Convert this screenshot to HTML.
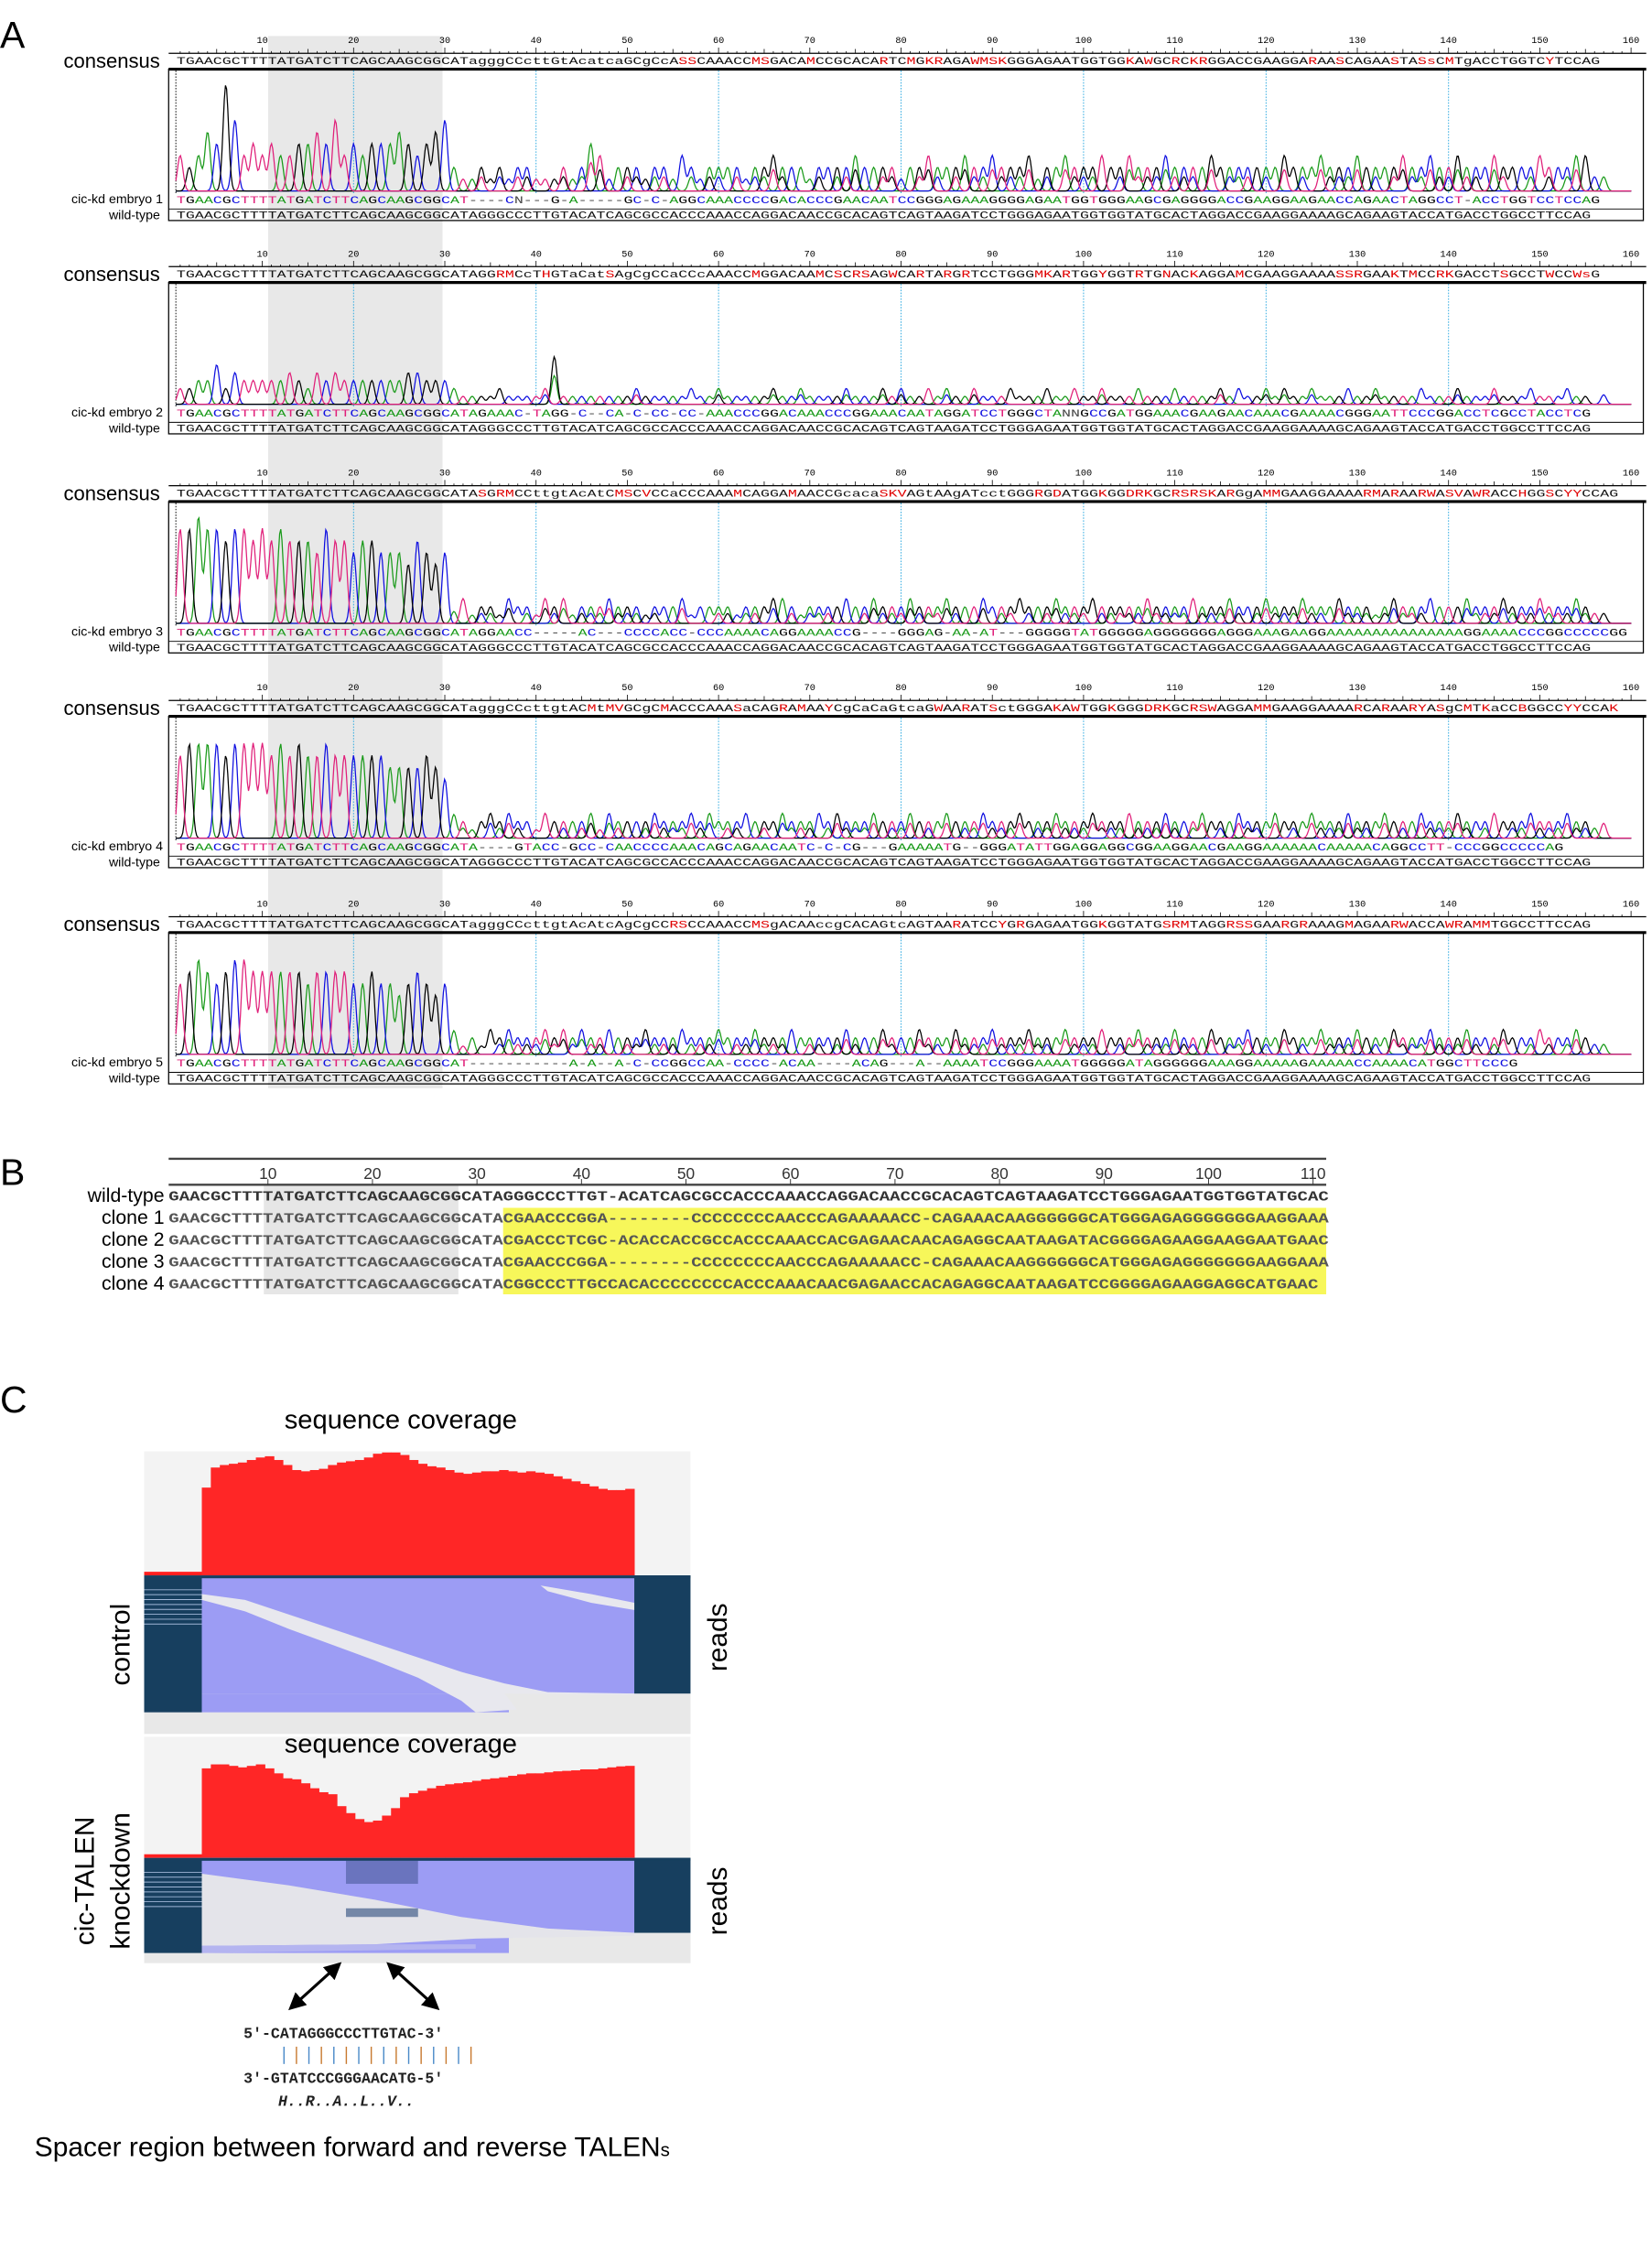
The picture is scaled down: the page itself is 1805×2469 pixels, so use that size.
<!DOCTYPE html>
<html><head><meta charset="utf-8"><style>
html,body{margin:0;padding:0;background:#fff}
svg{display:block}
text{font-family:"Liberation Sans",sans-serif}
.mono{font-family:"Liberation Mono",monospace}
</style></head><body>
<svg id="fig" xmlns="http://www.w3.org/2000/svg" width="1805" height="2469" viewBox="0 0 1146 1568" preserveAspectRatio="none">
<rect width="1146" height="1568" fill="#fff"/>
<text x="0" y="33" font-size="26">A</text>
<text x="0" y="822" font-size="26">B</text>
<text x="0" y="980" font-size="26">C</text>
<rect x="186" y="25" width="121" height="730" fill="#e8e8e8"/>
<g id="panelA"></g>
<g id="panelB"></g>
<g id="panelC"></g>
</svg>
<script>
const NS="http://www.w3.org/2000/svg";
function mk(tag,attrs,parent){const e=document.createElementNS(NS,tag);for(const k in attrs)e.setAttribute(k,attrs[k]);parent.appendChild(e);return e;}
const COL={A:"#1a9a1a",C:"#1010e0",G:"#000",T:"#e0207a",N:"#444","-":"#333"};

// ---------- Panel A data ----------
const blockOffsets=[0,148,300,449,599];
const wtSeq="TGAACGCTTTTATGATCTTCAGCAAGCGGCATAGGGCCCTTGTACATCAGCGCCACCCAAACCAGGACAACCGCACAGTCAGTAAGATCCTGGGAGAATGGTGGTATGCACTAGGACCGAAGGAAAAGCAGAAGTACCATGACCTGGCCTTCCAG";
const consensusSeqs=[
"TGAACGCTTTTATGATCTTCAGCAAGCGGCATagggCCcttGtAcatcaGCgCcASSCAAACCMSGACAMCCGCACARTCMGKRAGAWMSKGGGAGAATGGTGGKAWGCRCKRGGACCGAAGGARAASCAGAASTASsCMTgACCTGGTCYTCCAG",
"TGAACGCTTTTATGATCTTCAGCAAGCGGCATAGGRMCcTHGTaCatSAgCgCCaCCcAAACCMGGACAAMCSCRSAGWCARTARGRTCCTGGGMKARTGGYGGTRTGNACKAGGAMCGAAGGAAAASSRGAAKTMCCRKGACCTSGCCTWCCWsG",
"TGAACGCTTTTATGATCTTCAGCAAGCGGCATASGRMCCttgtAcAtCMSCVCCaCCCAAAMCAGGAMAACCGcacaSKVAGtAAgATcctGGGRGDATGGKGGDRKGCRSRSKARGgAMMGAAGGAAAARMARAARWASVAWRACCHGGSCYYCCAG",
"TGAACGCTTTTATGATCTTCAGCAAGCGGCATagggCCcttgtACMtMVGCgCMACCCAAASaCAGRAMAAYCgCaCaGtcaGWAARATSctGGGAKAWTGGKGGGDRKGCRSWAGGAMMGAAGGAAAARCARAARYASgCMTKaCCBGGCCYYCCAK",
"TGAACGCTTTTATGATCTTCAGCAAGCGGCATagggCCcttgtAcAtcAgCgCCRSCCAAACCMSgACAAccgCACAGtcAGTAARATCCYGRGAGAATGGKGGTATGSRMTAGGRSSGAARGRAAAGMAGAARWACCAWRAMMTGGCCTTCCAG"];
const embryoSeqs=[
"TGAACGCTTTTATGATCTTCAGCAAGCGGCAT----CN---G-A-----GC-C-AGGCAAACCCCGACACCCGAACAATCCGGGAGAAAGGGGAGAATGGTGGGAAGCGAGGGGACCGAAGGAAGAACCAGAACTAGGCCT-ACCTGGTCCTCCAG",
"TGAACGCTTTTATGATCTTCAGCAAGCGGCATAGAAAC-TAGG-C--CA-C-CC-CC-AAACCCGGACAAACCCGGAAACAATAGGATCCTGGGCTANNGCCGATGGAAACGAAGAACAAACGAAAACGGGAATTCCCGGACCTCGCCTACCTCG",
"TGAACGCTTTTATGATCTTCAGCAAGCGGCATAGGAACC-----AC---CCCCACC-CCCAAAACAGGAAAACCG----GGGAG-AA-AT---GGGGGTATGGGGGAGGGGGGGAGGGAAAGAAGGAAAAAAAAAAAAAAAGGAAAACCCGGCCCCCGG",
"TGAACGCTTTTATGATCTTCAGCAAGCGGCATA----GTACC-GCC-CAACCCCAAACAGCAGAACAATC-C-CG---GAAAAATG--GGGATATTGGAGGAGGCGGAAGGAACGAAGGAAAAAACAAAAACAGGCCTT-CCCGGCCCCCAG",
"TGAACGCTTTTATGATCTTCAGCAAGCGGCAT-----------A-A--A-C-CCGGCCAA-CCCC-ACAA----ACAG---A--AAAATCCGGGAAAATGGGGGATAGGGGGGAAAGGAAAAAGAAAAACCAAAACATGGCTTCCCG"];
// per-base trace peak heights (0-9)
const traceHeights=[
"3235496343433445463434445434562112121221112124312221221321222212232221222232222122322232232223122322232232223222232222222322232223222232232232223222232223322",
"2233524333334324343333333443332111121111261111111121111121121111121121111211121211212112111211121121121112111211112121121211211121121111211121112111211121112",
"8898878878787776877677666576561312213221323122232221222312222122233212222322322232223222322232223222322222322223222322232223222322212322232223222322232223222",
"7888878888787877877777766667652212323221322223132222322232322232223222323222322232223222322232223222322232223222322232223222322232223222322232223222322232223",
"6787678877777767777667665676562121323222323232232223222322232223222322222322232223222322232223222322232223222322232223222322232223222322232223222322232223222"];
const rulerTicks=[10,20,30,40,50,60,70,80,90,100,110,120,130,140,150,160];
const cyanPositions=[20,40,60,80,100,120,140];

const bx=n=>125+(n-1)*6.33;
const A=document.getElementById('panelA');
function seqText(parent,str,y,colored,name){
  const t=mk('text',{x:bx(1)-2.5,y:y,'font-size':7.2,class:'mono',textLength:(str.length)*6.33,lengthAdjust:'spacingAndGlyphs'},parent);
  
  
  for(const ch of str){const s=mk('tspan',{},t);s.textContent=ch;
    let c="#111";
    if(colored){c=COL[ch.toUpperCase()]||"#d00";}
    else if(!"ACGTacgt-".includes(ch)) c="#e00000";
    s.setAttribute('fill',c);}
}
blockOffsets.forEach((dy,k)=>{
  const g=mk('g',{},A);
  
  
  mk('line',{x1:117,x2:1142,y1:37+dy,y2:37+dy,stroke:'#000','stroke-width':0.8},g);
  for(let n=1;n<=160;n++){const h=n%10==0?4:(n%5==0?3:1.5);mk('line',{x1:bx(n),x2:bx(n),y1:37+dy,y2:37+dy-h,stroke:'#000','stroke-width':0.5},g);}
  rulerTicks.forEach(v=>{const t=mk('text',{x:bx(v),y:30+dy,'font-size':6.5,'text-anchor':'middle',class:'mono'},g);t.textContent=v;
    });
  const cl=mk('text',{x:111,y:47+dy,'font-size':14,'text-anchor':'end'},g);cl.textContent='consensus';
  
  seqText(g,consensusSeqs[k],44.5+dy,false,'consensus-sequence');
  mk('rect',{x:117,y:48+dy,width:1023,height:105,fill:'none',stroke:'#000','stroke-width':0.8},g);
  mk('line',{x1:117,x2:1142,y1:48+dy,y2:48+dy,stroke:'#000','stroke-width':2},g);
  cyanPositions.forEach(p=>mk('line',{x1:bx(p),x2:bx(p),y1:49+dy,y2:134+dy,stroke:'#2aa8e0','stroke-width':0.6,'stroke-dasharray':'1,1'},g));
  mk('line',{x1:122,x2:122,y1:49+dy,y2:134+dy,stroke:'#000','stroke-width':0.6,'stroke-dasharray':'1,1'},g);
  const hs=traceHeights[k];const base=133+dy;const unit=k==1?5.5:8.2;
  const tailScale=k>=2?0.7:1;
  const seq=wtSeq;
  ['A','C','G','T'].forEach(b=>{
    const peaks=[];
    for(let i=0;i<Math.min(hs.length,157);i++){
      const ts=i>=31?tailScale:1;
      if(seq[i]===b||(i>=31&&"ACGT"[(i*7+k)%4]===b&&hs[i]>1)) peaks.push([bx(i+1),parseInt(hs[i])*unit*ts*(seq[i]===b?1:0.6)]);}
    let d='';
    for(let x=122;x<=1132;x+=0.8){let y=0.5;for(const p of peaks){const dx=x-p[0];if(Math.abs(dx)<8)y+=p[1]*Math.exp(-dx*dx/(2*1.9*1.9));}
      d+=(d?'L':'M')+x.toFixed(1)+','+(base-y).toFixed(1);}
    const pth=mk('path',{d:d,fill:'none',stroke:COL[b],'stroke-width':0.8},g);
    
  });
  mk('line',{x1:117,x2:1140,y1:145+dy,y2:145+dy,stroke:'#000','stroke-width':0.6},g);
  const el=mk('text',{x:113,y:141+dy,'font-size':9,'text-anchor':'end'},g);el.textContent='cic-kd embryo '+(k+1);
  
  const wl=mk('text',{x:111,y:152+dy,'font-size':9,'text-anchor':'end'},g);wl.textContent='wild-type';
  
  seqText(g,embryoSeqs[k],141+dy,true,'embryo-sequence');
  seqText(g,wtSeq,151.5+dy,false,'wild-type-sequence');
});

// ---------- Panel B ----------
const B=document.getElementById('panelB');
const bRows=["wild-type","clone 1","clone 2","clone 3","clone 4"];
const bSeqs=[
"GAACGCTTTTATGATCTTCAGCAAGCGGCATAGGGCCCTTGT-ACATCAGCGCCACCCAAACCAGGACAACCGCACAGTCAGTAAGATCCTGGGAGAATGGTGGTATGCAC",
"GAACGCTTTTATGATCTTCAGCAAGCGGCATACGAACCCGGA--------CCCCCCCCAACCCAGAAAAACC-CAGAAACAAGGGGGGCATGGGAGAGGGGGGGAAGGAAA",
"GAACGCTTTTATGATCTTCAGCAAGCGGCATACGACCCTCGC-ACACCACCGCCACCCAAACCACGAGAACAACAGAGGCAATAAGATACGGGGAGAAGGAAGGAATGAAC",
"GAACGCTTTTATGATCTTCAGCAAGCGGCATACGAACCCGGA--------CCCCCCCCAACCCAGAAAAACC-CAGAAACAAGGGGGGCATGGGAGAGGGGGGGAAGGAAA",
"GAACGCTTTTATGATCTTCAGCAAGCGGCATACGGCCCTTGCCACACCCCCCCCACCCAAACAACGAGAACCACAGAGGCAATAAGATCCGGGGAGAAGGAGGCATGAAC"];
const bTicks=[10,20,30,40,50,60,70,80,90,100,110];
const cx=n=>117+(n-0.5)*7.25;
mk('rect',{x:183,y:822,width:135,height:76,fill:'#e6e6e6'},B);
mk('rect',{x:349,y:838,width:571,height:60,fill:'#f7f75a'},B);
mk('line',{x1:117,x2:920,y1:804,y2:804,stroke:'#444','stroke-width':1.5},B);
mk('line',{x1:117,x2:920,y1:822,y2:822,stroke:'#444','stroke-width':1.5},B);
bTicks.forEach(v=>{mk('line',{x1:cx(v),x2:cx(v),y1:818,y2:822,stroke:'#333','stroke-width':0.6},B);
  const t=mk('text',{x:cx(v),y:818,'font-size':11,'text-anchor':'middle',fill:'#333'},B);t.textContent=v;
  });
bRows.forEach((r,i)=>{const y=834+i*15.2;
  const l=mk('text',{x:114,y:y,'font-size':13.5,'text-anchor':'end'},B);l.textContent=r;
  
  const s=mk('text',{x:117,y:y-1,'font-size':9.5,'font-weight':'bold',class:'mono',fill:i==0?'#333':'#555',textLength:bSeqs[i].length*7.25,lengthAdjust:'spacingAndGlyphs'},B);
  s.textContent=bSeqs[i];});

// ---------- Panel C ----------
const C=document.getElementById('panelC');
const controlCoverage=[70,86,88,89,90,92,94,95,92,88,84,83,84,85,88,90,91,92,94,97,98,98,96,92,89,87,86,84,82,81,82,83,83,84,83,82,83,82,81,79,77,75,73,71,69,68,68,69];
const knockdownCoverage=[90,94,94,92.5,91,92.5,94,90,85,80,79,75,70,66,64,52,45,39,36,37.5,42.5,50,61,65,67.5,70,72.5,74,75,76,77.5,79,80,81,82.5,84,85,85,86,87,87.5,88,89,89,90,91,92,92.5];
function coveragePanel(top,vals,scale,base,readsBot,rightBot,bgBot,title){
  const g=mk('g',{},C);
  
  mk('rect',{x:100,y:top,width:379,height:bgBot-top,fill:'#f3f3f3'},g);
  mk('rect',{x:100,y:base,width:379,height:bgBot-base,fill:'#e8e8e8'},g);
  const t=mk('text',{x:278,y:title,'font-size':18.5,'text-anchor':'middle'},g);t.textContent='sequence coverage';
  
  mk('rect',{x:100,y:base-2.5,width:40,height:2.5,fill:'#ff2020'},g);
  const w=300/vals.length;
  vals.forEach((v,i)=>{const h=v*scale;const r=mk('rect',{x:140+i*w,y:base-h,width:w+0.3,height:h,fill:'#ff2626'},g);
    });
  mk('rect',{x:100,y:base,width:40,height:readsBot-base,fill:'#173f5f'},g);
  mk('rect',{x:440,y:base,width:39,height:rightBot-base,fill:'#173f5f'},g);
  for(let i=0;i<8;i++)mk('line',{x1:100,x2:140,y1:base+10+i*3.4,y2:base+10+i*3.4,stroke:'#9fb6d6','stroke-width':0.6},g);
  mk('rect',{x:140,y:base,width:300,height:rightBot-base,fill:'#9c9cf4'},g);
  mk('rect',{x:140,y:rightBot,width:213,height:readsBot-rightBot,fill:'#9c9cf4'},g);
  return g;
}
const g1=coveragePanel(1007,controlCoverage,0.87,1093,1188,1175,1203,991);
mk('polygon',{points:'140,1106 170,1110 200,1120 230,1130 260,1140 290,1150 320,1160 350,1168 380,1174 440,1175 440,1178 380,1180 360,1186 330,1188 320,1180 290,1164 260,1152 230,1141 200,1130 170,1118 140,1110',fill:'#e8e8ee'},g1);
mk('polygon',{points:'350,1175 440,1176 440,1188 360,1188',fill:'#e8e8e8'},g1);
mk('polygon',{points:'375,1100 410,1106 440,1112 440,1117 410,1112 380,1104',fill:'#e8e8ee'},g1);
mk('rect',{x:140,y:1093,width:339,height:2,fill:'#173f5f'},g1);
const g2=coveragePanel(1205,knockdownCoverage,0.69,1289,1355,1341,1362,1216);
mk('polygon',{points:'140,1300 200,1308 260,1318 320,1330 380,1338 440,1341 440,1343 330,1345 260,1349 140,1350',fill:'#e4e4ea'},g2);
mk('polygon',{points:'140,1350 260,1349 330,1349 330,1352 140,1355',fill:'#b4b4f0'},g2);
mk('rect',{x:240,y:1291,width:50,height:16,fill:'#4a5a9a',opacity:0.6},g2);
mk('rect',{x:240,y:1324,width:50,height:6,fill:'#2a4a7a',opacity:0.6},g2);
mk('rect',{x:140,y:1289,width:339,height:2,fill:'#173f5f'},g2);
function rot(txt,x,y,name,size){const t=mk('text',{x:x,y:y,'font-size':size,'text-anchor':'middle',transform:`rotate(-90 ${x} ${y})`},C);t.textContent=txt;
  }
rot('control',90,1141,'control-label',19);
rot('cic-TALEN',65,1305,'cic-talen-label',19);
rot('knockdown',90,1305,'knockdown-label',19);
rot('reads',504,1136,'reads-label-top',19);
rot('reads',504,1319,'reads-label-bottom',19);
mk('defs',{},C).innerHTML='<marker id="ah" markerWidth="6" markerHeight="6" refX="4" refY="3" orient="auto-start-reverse"><path d="M0,0L6,3L0,6z" fill="#000"/></marker>';
mk('line',{x1:234,y1:1364,x2:203,y2:1392,stroke:'#000','stroke-width':2,'marker-start':'url(#ah)','marker-end':'url(#ah)'},C);
mk('line',{x1:271,y1:1364,x2:302,y2:1392,stroke:'#000','stroke-width':2,'marker-start':'url(#ah)','marker-end':'url(#ah)'},C);
const seqLines=[["5′-CATAGGGCCCTTGTAC-3′",1414],["3′-GTATCCCGGGAACATG-5′",1445]];
seqLines.forEach(([s,y])=>{const t=mk('text',{x:169,y:y,'font-size':10.5,'font-weight':'bold',class:'mono',fill:'#222'},C);t.textContent=s;
  });
for(let i=0;i<16;i++)mk('line',{x1:197+i*8.65,x2:197+i*8.65,y1:1420,y2:1432,stroke:i%2?'#c87a30':'#4a8ac8','stroke-width':0.9},C);
const aa=mk('text',{x:193,y:1461,'font-size':10.5,'font-weight':'bold','font-style':'italic',class:'mono',fill:'#222'},C);aa.textContent='H..R..A..L..V..';

const sp=mk('text',{x:24,y:1496,'font-size':19},C);sp.innerHTML='Spacer region between forward and reverse TALEN<tspan font-size="13">s</tspan>';

</script>
</body></html>
